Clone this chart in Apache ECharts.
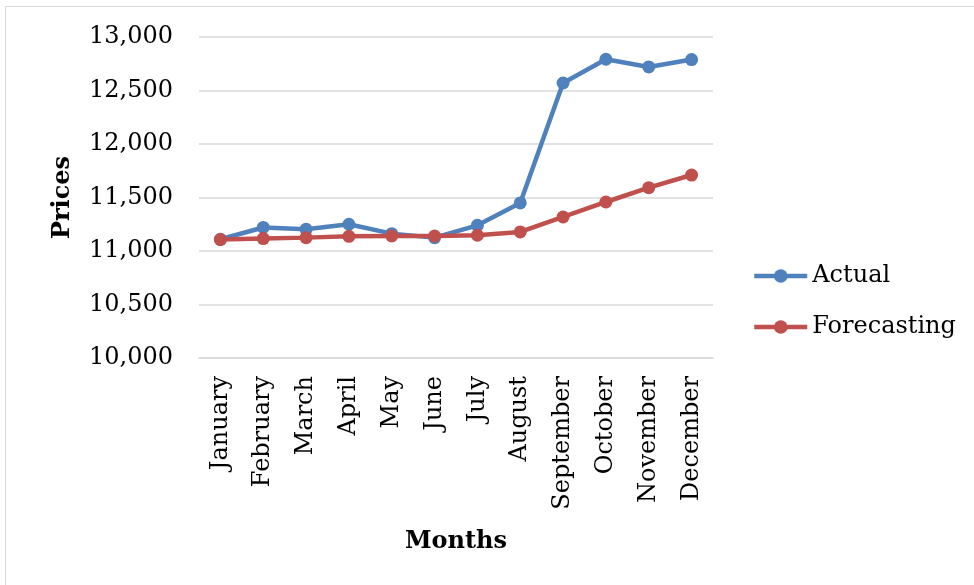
<!DOCTYPE html>
<html>
<head>
<meta charset="utf-8">
<script src="https://cdn.jsdelivr.net/npm/echarts@6/dist/echarts.min.js"></script>
<style>
  html, body { margin: 0; padding: 0; background: #ffffff; }
  #chart { width: 974px; height: 585px; }
</style>
</head>
<body>
<div id="chart"></div>
<script>
// Monthly prices: observed vs forecast
const months = ['January', 'February', 'March', 'April', 'May', 'June',
                'July', 'August', 'September', 'October', 'November', 'December'];
const actual = [11110, 11220, 11203, 11250, 11162, 11125, 11240, 11449, 12570, 12792, 12720, 12789];
const forecasting = [11107, 11116, 11125, 11137, 11140, 11140, 11147, 11178, 11318, 11458, 11592, 11710];
const yTicks = { min: 10000, max: 13000, step: 500 };

const FONT = 'DejaVu Serif';
const BLUE = '#4F81BD';
const RED = '#C0504D';

const chart = echarts.init(document.getElementById('chart'), null, { renderer: 'canvas' });

function lineSeries(name, data, color) {
  return {
    name: name,
    type: 'line',
    data: data,
    symbol: 'circle',
    symbolSize: 13,
    showSymbol: true,
    lineStyle: { color: color, width: 4.5 },
    itemStyle: { color: color },
    emphasis: { disabled: true },
    animation: false
  };
}

chart.setOption({
  animation: false,
  backgroundColor: '#ffffff',
  textStyle: { fontFamily: FONT, color: '#000000' },
  graphic: [{
    type: 'rect',
    shape: { x: 5.5, y: 6.5, width: 980, height: 600 },
    style: { fill: 'none', stroke: '#d9d9d9', lineWidth: 1 },
    silent: true
  }],
  grid: { left: 199, right: 261, top: 37, bottom: 227 },
  legend: {
    orient: 'vertical',
    left: 747,
    top: 259,
    itemWidth: 53,
    itemHeight: 17,
    itemGap: 27,
    lineStyle: { width: 4.5 },
    textStyle: { fontFamily: FONT, fontSize: 24, color: '#000000', lineHeight: 24 },
    data: ['Actual', 'Forecasting']
  },
  xAxis: {
    type: 'category',
    data: months,
    boundaryGap: true,
    name: 'Months',
    nameLocation: 'middle',
    nameGap: 172,
    nameTextStyle: { fontFamily: FONT, fontSize: 24, fontWeight: 'bold', color: '#000000' },
    axisLine: { show: true, lineStyle: { color: '#d9d9d9', width: 1.5 } },
    axisTick: { show: false },
    axisLabel: { rotate: 90, margin: 18, fontFamily: FONT, fontSize: 24, color: '#000000', interval: 0 },
    splitLine: { show: false }
  },
  yAxis: {
    type: 'value',
    min: yTicks.min,
    max: yTicks.max,
    interval: yTicks.step,
    name: 'Prices',
    nameLocation: 'middle',
    nameGap: 124,
    nameRotate: 90,
    nameTextStyle: { fontFamily: FONT, fontSize: 24, fontWeight: 'bold', color: '#000000' },
    axisLine: { show: false },
    axisTick: { show: false },
    axisLabel: {
      margin: 26,
      fontFamily: FONT,
      fontSize: 24,
      color: '#000000',
      formatter: v => v.toLocaleString('en-US')
    },
    splitLine: { show: true, lineStyle: { color: '#d9d9d9', width: 1.5 } }
  },
  series: [
    lineSeries('Actual', actual, BLUE),
    lineSeries('Forecasting', forecasting, RED)
  ]
});
</script>
</body>
</html>
